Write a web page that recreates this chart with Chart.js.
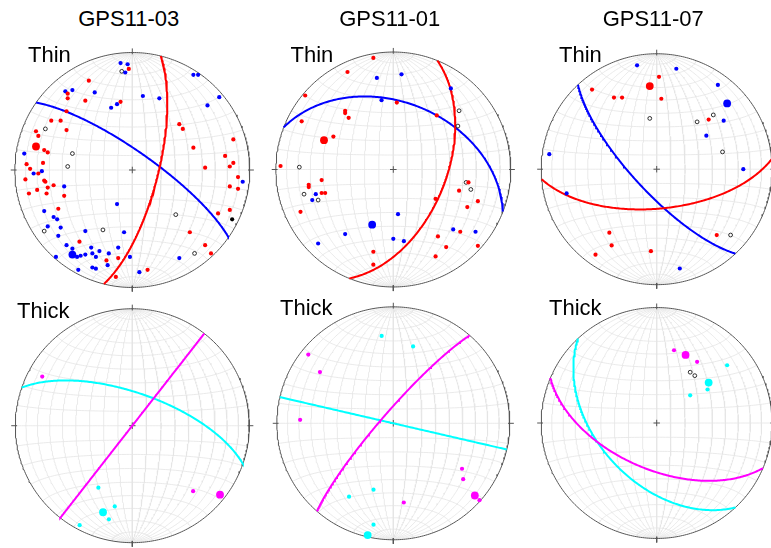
<!DOCTYPE html>
<html>
<head>
<meta charset="utf-8">
<script src="https://cdn.jsdelivr.net/npm/chart.js@4.4.1/dist/chart.umd.min.js"></script>
<style>
html, body { margin: 0; padding: 0; background: #fff; }
body { position: relative; width: 771px; height: 548px; overflow: hidden; font-family: "Liberation Sans", Arial, sans-serif; }
canvas { position: absolute; }
.lbl { position: absolute; font-size: 22px; line-height: 22px; color: #000; white-space: nowrap; z-index: 5; }
.ttl { text-align: center; width: 200px; }
</style>
</head>
<body>
<script>
// ---- text ----
const sampleNames = ['GPS11-03', 'GPS11-01', 'GPS11-07'];
const layerNames = ['Thin', 'Thick'];

// ---- data: projected net positions [east, north], net radius = 1 ----
const thin03Red = [[-0.03,0.86],[-0.37,0.76],[-0.55,0.65],[-0.55,0.61],[-0.40,0.59],[-0.10,0.58],[-0.56,0.50],[-0.69,0.42],[-0.61,0.42],[-0.56,0.34],[-0.82,0.33],[-0.80,0.29],[-0.75,0.17],[-0.72,0.15],[-0.90,0.05],[-0.76,0.06],[-0.87,0.01],[-0.80,-0.03],[-0.91,-0.08],[-0.75,-0.09],[-0.74,-0.10],[-0.67,-0.13],[-0.72,-0.15],[-0.81,-0.17],[-0.88,-0.20],[-0.73,-0.20],[-0.58,-0.22],[-0.63,-0.33],[-0.45,-0.61],[-0.12,-0.75],[-0.22,-0.77],[-0.14,-0.91],[0.13,-0.85],[0.40,0.39],[0.43,0.35],[0.86,0.26],[0.52,0.19],[0.79,0.12],[0.86,0.06],[0.83,0.03],[0.62,0.02],[0.90,-0.06],[0.83,-0.14],[0.90,-0.16],[0.83,-0.34],[0.73,-0.37],[0.49,-0.53],[0.62,-0.64],[0.67,-0.71]];
const thin03RedMean = [[-0.82,0.20]];
const thin03Blue = [[-0.10,0.91],[-0.04,0.90],[-0.06,0.83],[-0.57,0.67],[-0.51,0.68],[-0.32,0.66],[-0.18,0.53],[-0.13,0.56],[-0.92,0.14],[-0.84,-0.03],[-0.77,-0.01],[-0.58,-0.14],[-0.13,-0.29],[-0.75,-0.35],[-0.67,-0.40],[-0.64,-0.42],[-0.72,-0.48],[-0.61,-0.49],[-0.40,-0.52],[-0.07,-0.53],[-0.63,-0.56],[-0.56,-0.64],[-0.35,-0.66],[-0.12,-0.66],[-0.51,-0.67],[-0.47,-0.74],[-0.44,-0.73],[-0.40,-0.72],[-0.34,-0.71],[-0.28,-0.69],[-0.20,-0.71],[-0.31,-0.74],[-0.65,-0.74],[-0.21,-0.81],[-0.46,-0.85],[-0.34,-0.83],[-0.31,-0.84],[-0.02,-0.74],[0.06,-0.87],[0.40,-0.75],[0.94,-0.10],[0.52,0.81],[0.56,0.81],[0.09,0.63],[0.23,0.61],[0.74,0.62],[0.64,0.55]];
const thin03BlueMean = [[-0.51,-0.72]];
const thin03Open = [[-0.09,0.84],[-0.74,0.35],[-0.51,0.14],[-0.55,0.03],[-0.75,-0.52],[-0.25,-0.51],[0.37,-0.38],[0.53,-0.71]];
const thin03Black = [[0.85,-0.42]];

const thin01Red = [[-0.17,0.95],[-0.39,0.83],[-0.75,0.63],[-0.41,0.50],[-0.41,0.48],[-0.38,0.44],[0.03,0.57],[-0.78,0.41],[0.37,0.46],[-0.51,0.28],[-0.96,0.03],[-0.61,-0.09],[-0.72,-0.13],[-0.72,-0.15],[-0.61,-0.20],[-0.58,-0.20],[-0.79,-0.36],[0.36,-0.25],[0.56,-0.18],[0.64,-0.11],[0.72,-0.27],[0.63,-0.32],[0.57,-0.53],[0.38,-0.57],[0.45,-0.66],[0.36,-0.74],[0.72,-0.65],[-0.17,-0.70],[-0.17,-0.81]];
const thin01RedMean = [[-0.59,0.25]];
const thin01Blue = [[-0.14,0.78],[0.07,0.81],[0.49,0.69],[-0.10,0.59],[-0.66,-0.21],[-0.69,-0.26],[0.04,-0.38],[-0.41,-0.55],[-0.64,-0.63],[0.00,-0.59],[0.09,-0.61],[0.51,-0.51],[0.70,-0.53]];
const thin01BlueMean = [[-0.18,-0.47]];
const thin01Open = [[-0.80,0.02],[-0.76,-0.21],[-0.64,-0.26],[0.56,0.50],[0.55,0.37],[0.62,-0.11],[0.66,-0.17]];

const thin07Red = [[0.02,0.80],[-0.56,0.69],[-0.37,0.62],[-0.30,0.62],[0.04,0.61],[0.45,0.43],[-0.41,-0.55],[-0.39,-0.66],[-0.53,-0.74],[-0.05,-0.71],[0.52,-0.57]];
const thin07RedMean = [[-0.06,0.72]];
const thin07Blue = [[-0.17,0.90],[0.17,0.87],[0.53,0.73],[0.58,0.42],[0.43,0.29],[-0.93,0.13],[0.75,0.00],[-0.78,-0.21],[0.20,-0.86]];
const thin07BlueMean = [[0.61,0.57]];
const thin07Open = [[-0.06,0.44],[0.35,0.41],[0.49,0.47],[0.57,0.15],[0.64,-0.57]];

const thick03Magenta = [[-0.77,0.42],[0.52,-0.56]];
const thick03MagentaMean = [[0.75,-0.59]];
const thick03Cyan = [[-0.29,-0.53],[-0.15,-0.69],[-0.20,-0.80],[-0.45,-0.85]];
const thick03CyanMean = [[-0.25,-0.74]];

const thick01Magenta = [[-0.73,0.59],[-0.63,0.44],[-0.80,0.03],[0.59,-0.39],[0.60,-0.48],[0.74,-0.66],[0.09,-0.68]];
const thick01MagentaMean = [[0.70,-0.62]];
const thick01Cyan = [[-0.10,0.75],[0.17,0.66],[-0.17,-0.57],[-0.38,-0.63],[-0.17,-0.87]];
const thick01CyanMean = [[-0.22,-0.96]];

const thick07Magenta = [[0.15,0.63],[0.35,0.53]];
const thick07MagentaMean = [[0.25,0.59]];
const thick07Cyan = [[0.61,0.50],[0.44,0.29],[0.29,0.24]];
const thick07CyanMean = [[0.45,0.35]];
const thick07Open = [[0.29,0.44],[0.33,0.41]];

// mean planes, [strike, dip] right-hand rule
const thin03Planes = [[14, 72], [305, 77]];
const thin01Planes = [[22, 53], [291, 42]];
const thin07Planes = [[85, 62], [137, 74]];
const thick03Planes = [[38, 90], [289, 67]];
const thick01Planes = [[221, 82], [103, 90]];
const thick07Planes = [[113, 57], [137, 48]];

const RED = '#ff0000', BLUE = '#0000ff', MAGENTA = '#ff00ff', CYAN = '#00ffff';
const GRID = '#e4e4e4', FRAME = '#555555';

const panels = [
  { cx: 132.3, cy: 170.0, r: 121, title: sampleNames[0], label: layerNames[0], lx: 28, lb: 62.3,
    planes: [[thin03Planes[0], RED], [thin03Planes[1], BLUE]],
    dots: [[thin03Red, RED], [thin03Blue, BLUE], [thin03Black, '#000']],
    means: [[thin03RedMean, RED], [thin03BlueMean, BLUE]], open: thin03Open },
  { cx: 393.3, cy: 169.5, r: 121, title: sampleNames[1], label: layerNames[0], lx: 290.5, lb: 62.3,
    planes: [[thin01Planes[0], RED], [thin01Planes[1], BLUE]],
    dots: [[thin01Red, RED], [thin01Blue, BLUE]],
    means: [[thin01RedMean, RED], [thin01BlueMean, BLUE]], open: thin01Open },
  { cx: 656.7, cy: 169.2, r: 119, title: sampleNames[2], label: layerNames[0], lx: 559, lb: 62.5,
    planes: [[thin07Planes[0], RED], [thin07Planes[1], BLUE]],
    dots: [[thin07Red, RED], [thin07Blue, BLUE]],
    means: [[thin07RedMean, RED], [thin07BlueMean, BLUE]], open: thin07Open },
  { cx: 132.3, cy: 425.7, r: 120.5, label: layerNames[1], lx: 17, lb: 318.3,
    planes: [[thick03Planes[0], MAGENTA], [thick03Planes[1], CYAN]],
    dots: [[thick03Magenta, MAGENTA], [thick03Cyan, CYAN]],
    means: [[thick03MagentaMean, MAGENTA], [thick03CyanMean, CYAN]], open: [] },
  { cx: 393.3, cy: 423.3, r: 120, label: layerNames[1], lx: 280, lb: 316,
    planes: [[thick01Planes[0], MAGENTA], [thick01Planes[1], CYAN]],
    dots: [[thick01Magenta, MAGENTA], [thick01Cyan, CYAN]],
    means: [[thick01MagentaMean, MAGENTA], [thick01CyanMean, CYAN]], open: [] },
  { cx: 656.7, cy: 423.0, r: 119, label: layerNames[1], lx: 549, lb: 316,
    planes: [[thick07Planes[0], MAGENTA], [thick07Planes[1], CYAN]],
    dots: [[thick07Magenta, MAGENTA], [thick07Cyan, CYAN]],
    means: [[thick07MagentaMean, MAGENTA], [thick07CyanMean, CYAN]], open: thick07Open }
];

// equal-area (Schmidt) lower hemisphere projection of a unit vector [east, north, down]
function project(v) {
  const k = 1 / Math.sqrt(1 + v[2]);
  return { x: v[0] * k, y: v[1] * k };
}
const rad = d => d * Math.PI / 180;

function greatCircle(strike, dip) {
  const s = rad(strike), d = rad(dip), dd = s + Math.PI / 2;
  const sv = [Math.sin(s), Math.cos(s), 0];
  const dv = [Math.cos(d) * Math.sin(dd), Math.cos(d) * Math.cos(dd), Math.sin(d)];
  const pts = [];
  for (let i = 0; i <= 180; i++) {
    const c = Math.cos(rad(i)), sn = Math.sin(rad(i));
    pts.push(project([c * sv[0] + sn * dv[0], c * sv[1] + sn * dv[1], Math.max(0, sn * dv[2])]));
  }
  return pts;
}

// small circle of half-angle a about the north (sign 1) or south (sign -1) pole
function smallCircle(a, sign) {
  const pts = [];
  for (let i = 0; i <= 180; i += 2) {
    const u = rad(i);
    pts.push(project([Math.sin(rad(a)) * Math.cos(u), sign * Math.cos(rad(a)), Math.sin(rad(a)) * Math.sin(u)]));
  }
  return pts;
}

function lineSet(pts, color, width, order) {
  return { data: pts, showLine: true, borderColor: color, borderWidth: width, pointRadius: 0,
           pointHoverRadius: 0, fill: false, tension: 0, order: order };
}
function dotSet(arr, color, radius, order) {
  return { data: arr.map(p => ({ x: p[0], y: p[1] })), showLine: false, pointRadius: radius,
           pointHoverRadius: radius, pointBorderWidth: 0, pointBackgroundColor: color,
           backgroundColor: color, borderColor: color, order: order };
}
function openSet(arr) {
  return { data: arr.map(p => ({ x: p[0], y: p[1] })), showLine: false, pointRadius: 1.9,
           pointHoverRadius: 1.9, pointBorderWidth: 0.8, pointBackgroundColor: '#fff',
           pointBorderColor: '#000', order: 0 };
}

function buildDatasets(p) {
  const ds = [];
  p.dots.forEach(d => ds.push(dotSet(d[0], d[1], 2.1, 0)));
  p.means.forEach(d => ds.push(dotSet(d[0], d[1], 3.9, 0)));
  ds.push(openSet(p.open));
  p.planes.forEach(pl => ds.push(lineSet(greatCircle(pl[0][0], pl[0][1]), pl[1], 2, 1)));

  // frame, ticks and centre cross
  const ring = [];
  for (let i = 0; i <= 360; i++) ring.push({ x: Math.sin(rad(i)), y: Math.cos(rad(i)) });
  ds.push(lineSet(ring, FRAME, 1, 2));
  [[0, 1], [1, 0], [0, -1], [-1, 0]].forEach(t => {
    ds.push(lineSet([{ x: t[0] * 0.985, y: t[1] * 0.985 }, { x: t[0] * 1.035, y: t[1] * 1.035 }], FRAME, 1, 2));
  });
  ds.push(lineSet([{ x: -0.028, y: 0 }, { x: 0.028, y: 0 }], FRAME, 1, 2));
  ds.push(lineSet([{ x: 0, y: -0.028 }, { x: 0, y: 0.028 }], FRAME, 1, 2));

  // net grid, 10 degree spacing
  for (let a = 10; a <= 80; a += 10) {
    ds.push(lineSet(greatCircle(0, a), GRID, 0.8, 3));
    ds.push(lineSet(greatCircle(180, a), GRID, 0.8, 3));
    ds.push(lineSet(smallCircle(a, 1), GRID, 0.8, 3));
    ds.push(lineSet(smallCircle(a, -1), GRID, 0.8, 3));
  }
  ds.push(lineSet(greatCircle(0, 90), GRID, 0.8, 3));
  ds.push(lineSet(smallCircle(90, 1), GRID, 0.8, 3));
  return ds;
}

function addText(cls, text, left, top) {
  const el = document.createElement('div');
  el.className = cls;
  el.textContent = text;
  el.style.left = left + 'px';
  el.style.top = top + 'px';
  document.body.appendChild(el);
}

panels.forEach(p => {
  const L = Math.floor(p.cx - 1.1 * p.r), T = Math.floor(p.cy - 1.1 * p.r);
  const W = Math.ceil(p.cx + 1.1 * p.r) - L, H = Math.ceil(p.cy + 1.1 * p.r) - T;
  const canvas = document.createElement('canvas');
  canvas.width = W; canvas.height = H;
  canvas.style.left = L + 'px'; canvas.style.top = T + 'px';
  canvas.style.width = W + 'px'; canvas.style.height = H + 'px';
  document.body.appendChild(canvas);

  new Chart(canvas, {
    type: 'scatter',
    data: { datasets: buildDatasets(p) },
    options: {
      animation: false,
      responsive: false,
      devicePixelRatio: 1,
      events: [],
      layout: { padding: 0 },
      plugins: { legend: { display: false }, tooltip: { enabled: false }, title: { display: false } },
      scales: {
        x: { type: 'linear', display: false, min: (L - p.cx) / p.r, max: (L + W - p.cx) / p.r },
        y: { type: 'linear', display: false, min: (p.cy - T - H) / p.r, max: (p.cy - T) / p.r }
      }
    }
  });

  if (p.title) addText('lbl ttl', p.title, p.cx - 3.5 - 100, 8.1);
  addText('lbl', p.label, p.lx, p.lb - 18.6);
});
</script>
</body>
</html>
